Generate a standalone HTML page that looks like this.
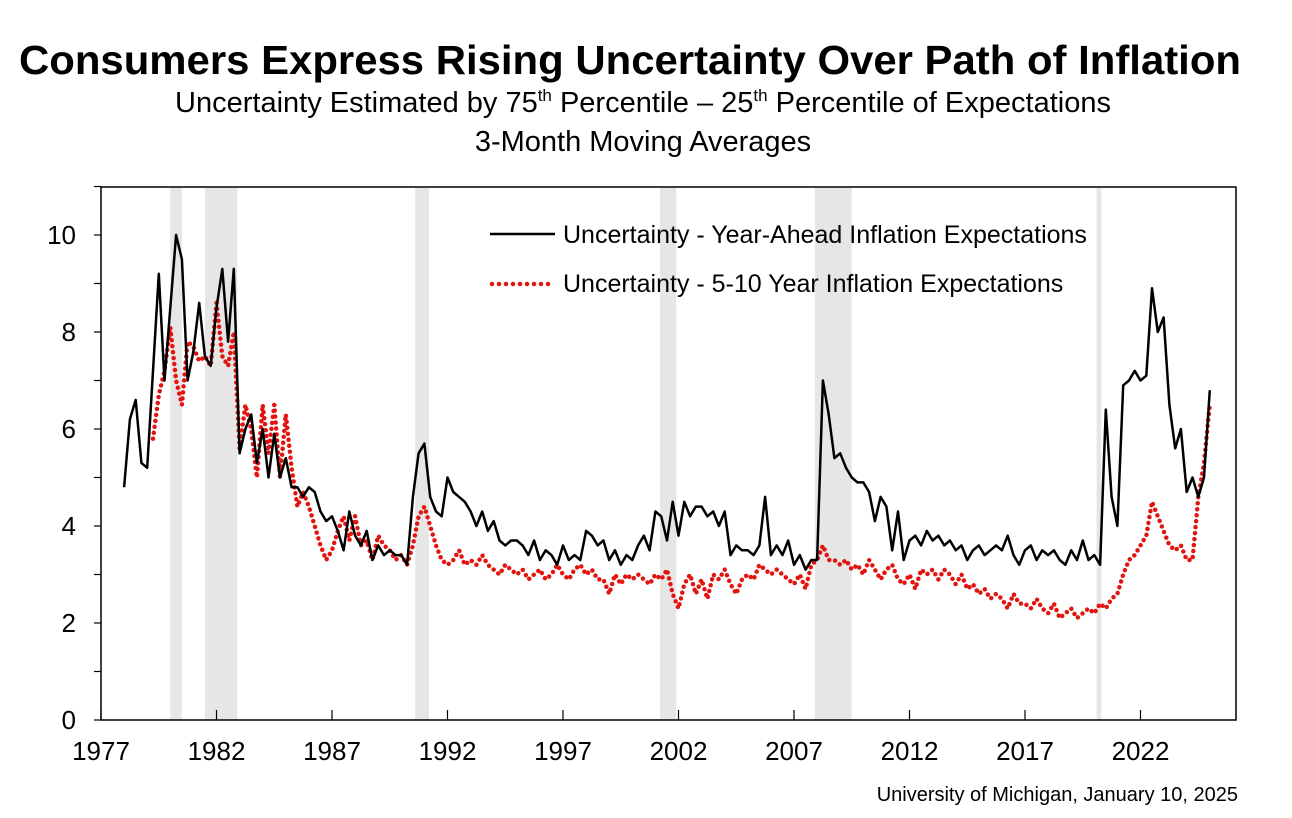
<!DOCTYPE html>
<html><head><meta charset="utf-8"><style>
html,body{margin:0;padding:0;background:#fff;width:1292px;height:818px;overflow:hidden;font-family:"Liberation Sans",Arial,sans-serif}
</style></head><body>
<svg id="chart" width="1292" height="818" xmlns="http://www.w3.org/2000/svg" font-family="Liberation Sans, Arial, sans-serif">
<text x="630" y="74" text-anchor="middle" font-size="41" font-weight="bold" textLength="1222" lengthAdjust="spacingAndGlyphs">Consumers Express Rising Uncertainty Over Path of Inflation</text>
<text x="643" y="112" text-anchor="middle" font-size="29">Uncertainty Estimated by 75<tspan font-size="17" dy="-11">th</tspan><tspan dy="11"> Percentile – 25</tspan><tspan font-size="17" dy="-11">th</tspan><tspan dy="11"> Percentile of Expectations</tspan></text>
<text x="643" y="151" text-anchor="middle" font-size="29">3-Month Moving Averages</text>
<g id="bands"></g>
<g id="axes"></g>
<g id="series"></g>
<g>
<line x1="490" y1="234" x2="555" y2="234" stroke="#000" stroke-width="2.5"/>
<text x="563" y="243" font-size="25">Uncertainty - Year-Ahead Inflation Expectations</text>
<line x1="492" y1="284" x2="550" y2="284" stroke="#e3140f" stroke-width="4.5" stroke-linecap="round" stroke-dasharray="0 7"/>
<text x="563" y="292" font-size="25">Uncertainty - 5-10 Year Inflation Expectations</text>
</g>
<text x="1238" y="801" text-anchor="end" font-size="20">University of Michigan, January 10, 2025</text>
</svg>
<script>
const startYear = 1978;
const yearAhead = [
4.8,6.2,6.6,5.3, 5.2,7.2,9.2,7.0, 8.5,10.0,9.5,7.0, 7.6,8.6,7.5,7.3, 8.5,9.3,7.8,9.3,
5.5,6.0,6.3,5.3, 6.0,5.0,5.9,5.0, 5.4,4.8,4.8,4.6, 4.8,4.7,4.3,4.1, 4.2,3.9,3.5,4.3,
3.8,3.6,3.9,3.3, 3.6,3.4,3.5,3.4, 3.4,3.2,4.6,5.5, 5.7,4.6,4.3,4.2, 5.0,4.7,4.6,4.5,
4.3,4.0,4.3,3.9, 4.1,3.7,3.6,3.7, 3.7,3.6,3.4,3.7, 3.3,3.5,3.4,3.2, 3.6,3.3,3.4,3.3,
3.9,3.8,3.6,3.7, 3.3,3.5,3.2,3.4, 3.3,3.6,3.8,3.5, 4.3,4.2,3.7,4.5, 3.8,4.5,4.2,4.4,
4.4,4.2,4.3,4.0, 4.3,3.4,3.6,3.5, 3.5,3.4,3.6,4.6, 3.4,3.6,3.4,3.7, 3.2,3.4,3.1,3.3,
3.3,7.0,6.3,5.4, 5.5,5.2,5.0,4.9, 4.9,4.7,4.1,4.6, 4.4,3.5,4.3,3.3, 3.7,3.8,3.6,3.9,
3.7,3.8,3.6,3.7, 3.5,3.6,3.3,3.5, 3.6,3.4,3.5,3.6, 3.5,3.8,3.4,3.2, 3.5,3.6,3.3,3.5,
3.4,3.5,3.3,3.2, 3.5,3.3,3.7,3.3, 3.4,3.2,6.4,4.6, 4.0,6.9,7.0,7.2, 7.0,7.1,8.9,8.0,
8.3,6.5,5.6,6.0, 4.7,5.0,4.6,5.0, 6.8];
const longRun = [
null,null,null,null, null,5.8,6.7,7.2, 8.1,7.0,6.5,7.8, 7.7,7.4,7.5,7.3, 8.6,7.5,7.3,8.0,
5.6,6.5,6.0,5.0, 6.5,5.5,6.5,5.0, 6.3,5.2,4.4,4.7, 4.4,4.0,3.6,3.3, 3.5,3.9,4.2,3.7,
4.2,3.6,3.7,3.3, 3.8,3.6,3.5,3.3, 3.4,3.2,3.6,4.2, 4.4,4.0,3.6,3.3, 3.2,3.3,3.5,3.2,
3.3,3.2,3.4,3.2, 3.1,3.0,3.2,3.1, 3.0,3.1,2.9,3.0, 3.1,2.9,3.0,3.2, 3.0,2.9,3.1,3.2,
3.0,3.1,2.9,2.9, 2.6,3.0,2.8,3.0, 2.9,3.0,2.9,2.8, 3.0,2.9,3.1,2.6, 2.3,2.8,3.0,2.6,
2.9,2.5,3.0,2.9, 3.1,2.8,2.6,2.9, 3.0,2.9,3.2,3.1, 3.0,3.1,3.0,2.9, 2.8,3.0,2.7,3.2,
3.3,3.6,3.3,3.3, 3.2,3.3,3.1,3.2, 3.0,3.3,3.1,2.9, 3.1,3.2,2.9,2.8, 3.0,2.7,3.1,3.0,
3.1,2.9,3.1,3.0, 2.8,3.0,2.7,2.8, 2.6,2.7,2.5,2.6, 2.5,2.3,2.6,2.4, 2.4,2.3,2.5,2.3,
2.2,2.4,2.1,2.2, 2.3,2.1,2.2,2.3, 2.2,2.4,2.3,2.5, 2.6,3.0,3.3,3.4, 3.6,3.8,4.5,4.2,
3.9,3.6,3.5,3.6, 3.3,3.3,4.6,5.3, 6.5];
const recessions = [[1980.0,1980.5],[1981.5,1982.9],[1990.6,1991.2],[2001.2,2001.9],[2007.9,2009.5],[2020.1,2020.3]];
const xTickYears = [1977,1982,1987,1992,1997,2002,2007,2012,2017,2022];
const yTicks = [0,2,4,6,8,10];

const NS = "http://www.w3.org/2000/svg";
const L = 101, R = 1236, T = 187, B = 720;
const x = t => L + (t - 1977) * 23.1;
const y = v => B - v * 48.5;
function mk(tag, attrs, parent){ const e = document.createElementNS(NS, tag); for (const k in attrs) e.setAttribute(k, attrs[k]); parent.appendChild(e); return e; }

const bands = document.getElementById('bands');
recessions.forEach(r => {
  const e = mk('rect', {x:x(r[0]), y:T, width:x(r[1])-x(r[0]), height:B-T, fill:'#e6e6e6'}, bands);
  
  
});

const axes = document.getElementById('axes');
const frame = mk('rect', {x:L, y:T, width:R-L, height:B-T, fill:'none', stroke:'#000', 'stroke-width':1.5}, axes);


for (let v = 0; v <= 11; v++) {
  mk('line', {x1:L-7, x2:L, y1:y(v), y2:y(v), stroke:'#000', 'stroke-width':1.2}, axes);
}
yTicks.forEach(v => {
  const t = mk('text', {x:76, y:y(v)+9, 'text-anchor':'end', 'font-size':26}, axes);
  t.textContent = v;
  
  
});
xTickYears.forEach(yr => {
  mk('line', {x1:x(yr), x2:x(yr), y1:B-10, y2:B, stroke:'#000', 'stroke-width':1.2}, axes);
  const t = mk('text', {x:x(yr), y:B+40, 'text-anchor':'middle', 'font-size':26}, axes);
  t.textContent = yr;
  
  
});

function pathFor(arr){
  let d = '', pen = false;
  arr.forEach((v, i) => {
    if (v === null) { pen = false; return; }
    const px = x(startYear + i/4), py = y(v);
    d += (pen ? 'L' : 'M') + px.toFixed(1) + ' ' + py.toFixed(1);
    pen = true;
  });
  return d;
}
const series = document.getElementById('series');
const red = mk('path', {d:pathFor(longRun), fill:'none', stroke:'#e3140f', 'stroke-width':4.5, 'stroke-linecap':'round', 'stroke-dasharray':'0 6'}, series);


const blk = mk('path', {d:pathFor(yearAhead), fill:'none', stroke:'#000', 'stroke-width':2.5, 'stroke-linejoin':'round'}, series);


</script>
</body></html>
